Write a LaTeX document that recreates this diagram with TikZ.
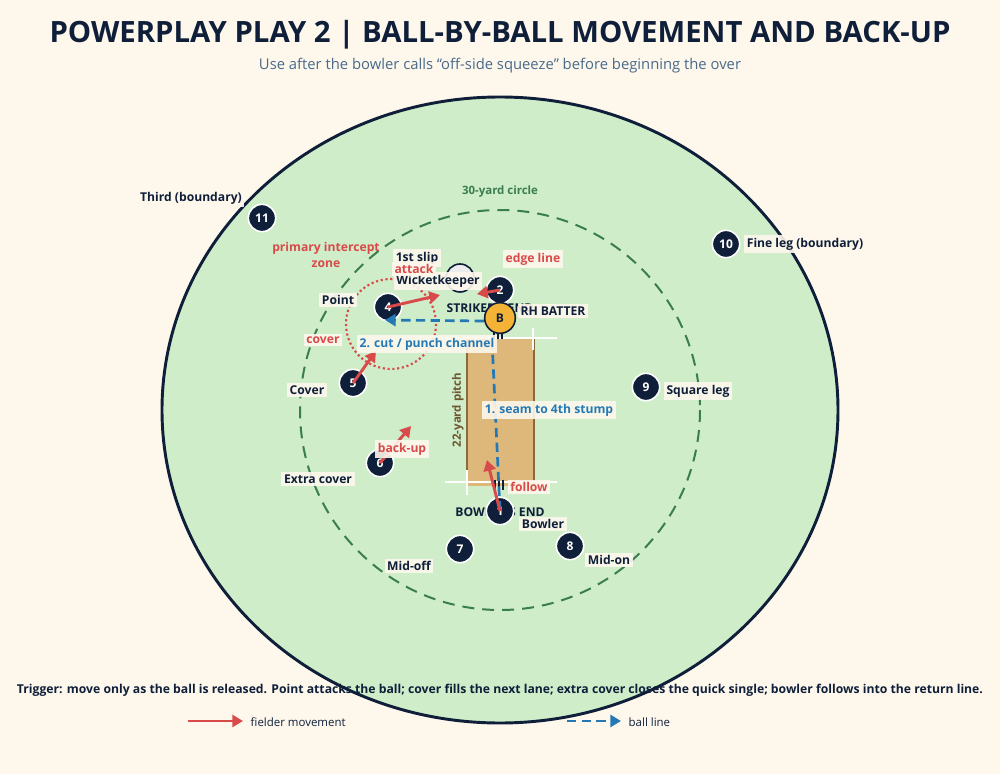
\documentclass[tikz,border=0pt]{standalone}
\usepackage{fontspec}
\setmainfont{Open Sans}
\usetikzlibrary{arrows.meta}
\definecolor{bg}{HTML}{FDF7EC}
\definecolor{field}{HTML}{CFEDC9}
\definecolor{navy}{HTML}{0F1F3A}
\definecolor{dgreen}{HTML}{3A7D50}
\definecolor{pitch}{HTML}{DDB87A}
\definecolor{pbrown}{HTML}{8A6A38}
\definecolor{mred}{HTML}{D94A4A}
\definecolor{mblue}{HTML}{2479B5}
\definecolor{sub}{HTML}{4A6A8A}
\definecolor{batter}{HTML}{F5B335}
\tikzset{
 fld/.style={circle,fill=navy,draw=white,line width=1.2pt,minimum size=20.5pt,inner sep=0pt,text=white,font=\bfseries\fontsize{9}{10}\selectfont},
 lab/.style={fill=bg,fill opacity=0.9,text opacity=1,inner sep=2pt,text=navy,font=\bfseries\fontsize{9.1}{10}\selectfont},
 rlab/.style={lab,text=mred},
 blab/.style={lab,text=mblue},
 mv/.style={draw=mred,line width=2.2pt,-{Triangle[length=8pt,width=9pt]}},
 ball/.style={draw=mblue,line width=2pt,dash pattern=on 7pt off 4pt,-{Triangle[length=8pt,width=9pt]}},
}
\begin{document}
\begin{tikzpicture}[x=0.75pt,y=-0.75pt]
\useasboundingbox (0,0) rectangle (1000,774);
\fill[bg] (0,0) rectangle (1000,774);
\node[font=\bfseries\fontsize{22}{26}\selectfont,text=navy] (title) at (500,35) {POWERPLAY PLAY 2 | BALL-BY-BALL MOVEMENT AND BACK-UP};
\node[font=\fontsize{11.1}{13}\selectfont,text=sub] (subt) at (500,66) {Use after the bowler calls “off-side squeeze” before beginning the over};
% field
\draw[fill=field,draw=navy,line width=2.2pt] (500,410) ellipse [x radius=338,y radius=313];
\draw[dgreen,line width=1.5pt,dash pattern=on 9pt off 6pt] (500,410) ellipse [x radius=200,y radius=200];
\node[font=\bfseries\fontsize{8.6}{10}\selectfont,text=dgreen] (circ) at (500,192) {30-yard circle};
% pitch
\fill[pitch] (467,338) rectangle (534,486);
\draw[pbrown,line width=1.3pt] (467,338) -- (467,486) (534,338) -- (534,486);
\draw[white,line width=1.5pt] (445,338) -- (557,338) (533,328) -- (533,350);
\draw[white,line width=1.5pt] (445,482) -- (557,482) (467,470) -- (467,495);
\draw[navy,line width=1.2pt] (494,330)--(494,339) (498,330)--(498,339) (502,330)--(502,339);
\draw[navy,line width=1.2pt] (495,480)--(495,490) (499,480)--(499,490) (503,480)--(503,490);
\node[rotate=90,font=\bfseries\fontsize{8.6}{10}\selectfont,text=pbrown!80!black] (pl) at (458,410) {22-yard pitch};
\node[font=\bfseries\fontsize{9.1}{10}\selectfont,text=navy] (se) at (490,308) {STRIKER’S END};
\node[font=\bfseries\fontsize{9.1}{10}\selectfont,text=navy] (be) at (500,512) {BOWLER’S END};
% dotted zone
\draw[mred,line width=1.6pt,dotted] (391,324) circle [radius=45];
\node[font=\bfseries\fontsize{9.1}{12}\selectfont,text=mred,align=center] (pz) at (326,255) {primary intercept\\zone};
% fielders
\node[circle,fill=gray!15,draw=navy,line width=1.2pt,minimum size=21pt] (wk) at (460,278) {};
\node[fld] (f2) at (500,290) {2};
\node[circle,fill=batter,draw=navy,line width=1.2pt,minimum size=23pt,inner sep=0pt,font=\bfseries\fontsize{9}{10}\selectfont,text=navy] (B) at (500,318) {B};
\node[fld] (f1) at (500,511) {1};
\node[fld] (f4) at (388,307) {4};
\node[fld] (f5) at (353,383) {5};
\node[fld] (f6) at (380,463) {6};
\node[fld] (f7) at (460,549) {7};
\node[fld] (f8) at (570,546) {8};
\node[fld] (f9) at (646,387) {9};
\node[fld] (f10) at (726,244) {10};
\node[fld] (f11) at (262,218) {11};
% ball lines
\coordinate (bt) at (385,320);
\coordinate (bs) at (492,340);
\draw[ball] (B.west) ++(0,3) -- (bt);
\draw[mblue,line width=2pt,dash pattern=on 7pt off 4pt] (bs) -- (f1.center);
% moves
\coordinate (m4) at (440,295);
\coordinate (m5) at (376,351);
\coordinate (m6) at (411,426);
\coordinate (m1) at (487,460);
\coordinate (m2) at (477,294);
\draw[mv] (f4.center) -- (m4);
\draw[mv] (f5.center) -- (m5);
\draw[mv] (f6.center) -- (m6);
\draw[mv] (f1.center) -- (m1);
\draw[mv] (f2.center) -- (m2);
% labels
\node[lab] (l11) at (191,198) {Third (boundary)};
\node[lab] (l10) at (805,244) {Fine leg (boundary)};
\node[lab] (lp) at (338,300) {Point};
\node[lab] (lc) at (307,390) {Cover};
\node[lab] (lec) at (318,479) {Extra cover};
\node[lab] (lmo) at (409,566) {Mid-off};
\node[lab] (lb) at (543,524) {Bowler};
\node[lab] (lmn) at (609,560) {Mid-on};
\node[lab] (lsq) at (698,391) {Square leg};
\node[lab] (lrh) at (553,311) {RH BATTER};
\node[lab] (lslip) at (417,258) {1st slip};
\node[lab] (lwk) at (438,281) {Wicketkeeper};
\node[rlab] (ledge) at (533,259) {edge line};
\node[rlab] (latt) at (414,269) {attack};
\node[rlab] (lcov) at (323,340) {cover};
\node[rlab] (lbu) at (402,449) {back-up};
\node[rlab] (lfol) at (529,487) {follow};
\node[blab] (lcut) at (427,344) {2. cut / punch channel};
\node[blab] (lseam) at (549,410) {1. seam to 4th stump};
% footer
\node[font=\bfseries\fontsize{9.15}{10}\selectfont,text=navy] (trig) at (500,690) {Trigger: move only as the ball is released. Point attacks the ball; cover fills the next lane; extra cover closes the quick single; bowler follows into the return line.};
\coordinate (la1) at (188,721); \coordinate (la2) at (243,721);
\draw[mv] (la1) -- (la2);
\node[anchor=west,font=\fontsize{8.6}{10}\selectfont,text=navy] (lt1) at (246,722) {fielder movement};
\coordinate (lb1) at (567,721); \coordinate (lb2) at (621,721);
\draw[ball] (lb1) -- (lb2);
\node[anchor=west,font=\fontsize{8.6}{10}\selectfont,text=navy] (lt2) at (624,722) {ball line};
\end{tikzpicture}
\end{document}
